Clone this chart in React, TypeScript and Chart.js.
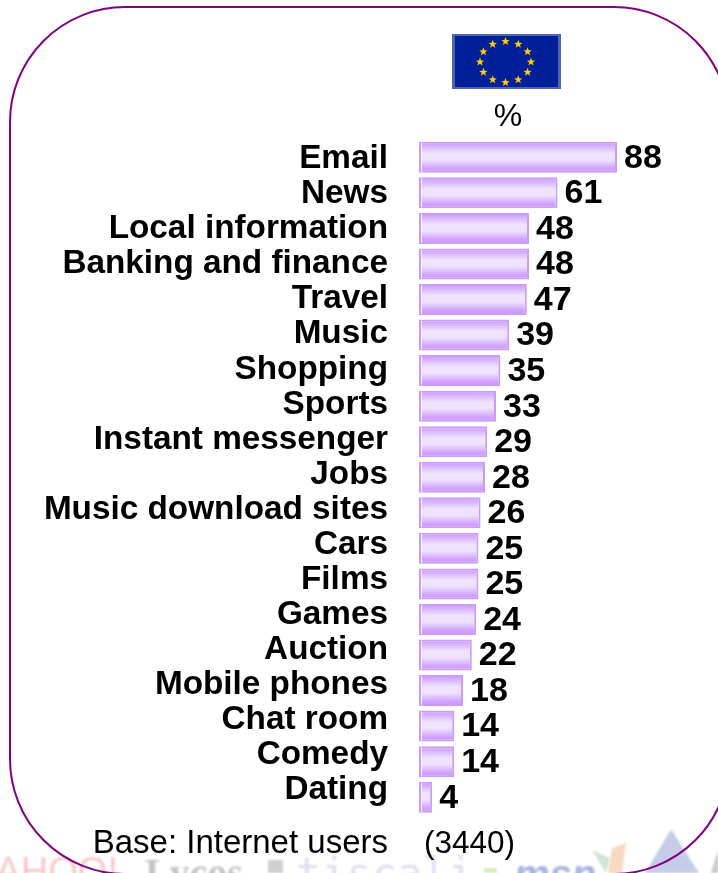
import React, { useEffect, useRef } from "react";
import { Chart, registerables } from "chart.js";

Chart.register(...registerables);

const categories = ["Email","News","Local information","Banking and finance","Travel","Music","Shopping","Sports","Instant messenger","Jobs","Music download sites","Cars","Films","Games","Auction","Mobile phones","Chat room","Comedy","Dating"];
const values = [88,61,48,48,47,39,35,33,29,28,26,25,25,24,22,18,14,14,4];
const unitLabel = "%";
const baseLabel = "Base: Internet users";
const baseCount = "(3440)";
const logos = ["YAHOO!", "Lycos", "tiscali", "msn"];

const FONT = '"Liberation Sans", Arial, sans-serif';

function star(ctx: CanvasRenderingContext2D, x: number, y: number, r: number) {
  ctx.beginPath();
  for (let i = 0; i < 10; i++) {
    const a = -Math.PI / 2 + (i * Math.PI) / 5;
    const rr = i % 2 ? r * 0.42 : r;
    ctx.lineTo(x + rr * Math.cos(a), y + rr * Math.sin(a));
  }
  ctx.closePath();
  ctx.fill();
}

const backdrop = {
  id: "backdrop",
  afterLayout(chart: any) {
    // label rows run slightly tighter than the bars in the reference
    const s = chart.scales.yLabels;
    s.top = s.top + 2;
    s.bottom = s.top + 19 * 35.05;
    s.height = s.bottom - s.top;
    s.configure();
    s._labelItems = null;
  },
  beforeDraw(chart: any) {
    const ctx: CanvasRenderingContext2D = chart.ctx;
    ctx.save();
    ctx.fillStyle = "#fff";
    ctx.fillRect(0, 0, 718, 873);
    ctx.textBaseline = "alphabetic";
    ctx.textAlign = "left";
    // faded logo strip
    ctx.save();
    ctx.filter = "blur(0.8px)";
    ctx.fillStyle = "#f8c8c8";
    ctx.font = '38px "Liberation Sans"';
    ctx.fillText(logos[0], -27, 884);
    ctx.fillStyle = "#c4c4c4";
    ctx.font = 'bold 40px "Liberation Serif"';
    ctx.fillText(logos[1], 145, 886);
    ctx.fillStyle = "#d0d0d0";
    ctx.fillRect(268, 860, 15, 13);
    ctx.fillStyle = "#dfdff0";
    ctx.font = '42px "DejaVu Sans Mono"';
    ctx.fillText(logos[2], 296, 888);
    ctx.fillStyle = "#d8ecc0";
    ctx.fillRect(484, 868, 13, 5);
    ctx.fillStyle = "#a9b4e0";
    ctx.font = 'italic bold 40px "Liberation Sans"';
    ctx.fillText(logos[3], 514, 888);
    ctx.fillStyle = "#f8d8c0";
    ctx.beginPath(); ctx.moveTo(608, 873); ctx.lineTo(612, 848); ctx.lineTo(626, 843); ctx.lineTo(622, 873); ctx.fill();
    ctx.fillStyle = "#cfe4d4";
    ctx.beginPath(); ctx.moveTo(606, 873); ctx.lineTo(592, 850); ctx.lineTo(610, 858); ctx.fill();
    ctx.fillStyle = "#c5cce8";
    ctx.beginPath(); ctx.moveTo(645, 873); ctx.lineTo(671, 829); ctx.lineTo(699, 873); ctx.fill();
    ctx.fillStyle = "#c8c8c8";
    ctx.beginPath(); ctx.moveTo(711, 873); ctx.lineTo(718, 850); ctx.lineTo(718, 873); ctx.fill();
    ctx.restore();
    // rounded frame
    ctx.strokeStyle = "#800080";
    ctx.lineWidth = 2;
    ctx.beginPath();
    ctx.roundRect(10, 7, 719, 867, 115);
    ctx.stroke();
    // EU flag
    ctx.fillStyle = "#4d66b3";
    ctx.fillRect(452, 34, 109, 55);
    ctx.fillStyle = "#00209a";
    ctx.fillRect(455, 36, 103, 51);
    ctx.fillStyle = "#ffcc00";
    for (let i = 0; i < 12; i++) {
      const a = (i * Math.PI) / 6;
      star(ctx, 505.5 + 25.5 * Math.sin(a), 62 - 20.5 * Math.cos(a), 4.4);
    }
    // captions
    ctx.fillStyle = "#000";
    ctx.textBaseline = "middle";
    ctx.font = `32px ${FONT}`;
    ctx.textAlign = "center";
    ctx.fillText(unitLabel, 508, 117);
    ctx.font = `33px ${FONT}`;
    ctx.textAlign = "right";
    ctx.fillText(baseLabel, 388, 844);
    ctx.font = `31.5px ${FONT}`;
    ctx.fillText(baseCount, 515, 844);
    ctx.restore();
  },
};

const valueLabels = {
  id: "valueLabels",
  afterDatasetsDraw(chart: any) {
    const ctx: CanvasRenderingContext2D = chart.ctx;
    const meta = chart.getDatasetMeta(0);
    ctx.save();
    ctx.font = `bold 34px ${FONT}`;
    ctx.textAlign = "left";
    ctx.textBaseline = "middle";
    meta.data.forEach((bar: any, i: number) => {
      ctx.fillStyle = "rgba(255,255,255,0.85)";
      ctx.fillRect(bar.base + 2, bar.y - bar.height / 2 + 1, 1, bar.height - 2);
      ctx.fillStyle = "#000";
      ctx.fillText(String(values[i]), bar.x + 7, bar.y + 1);
    });
    ctx.restore();
  },
};

export default function App() {
  const ref = useRef<HTMLCanvasElement | null>(null);
  useEffect(() => {
    const chart = new Chart(ref.current as HTMLCanvasElement, {
      type: "bar",
      data: {
        labels: categories,
        datasets: [
          {
            data: values,
            xAxisID: "x",
            yAxisID: "y",
            base: -2,
            barPercentage: 0.872,
            categoryPercentage: 1,
            borderColor: "#cc99ff",
            borderWidth: 2,
            borderSkipped: false,
            backgroundColor: (c: any) => {
              const s = c.chart.scales.y;
              if (!s || c.dataIndex === undefined) return "#e0ccff";
              const y = s.getPixelForValue(c.dataIndex);
              if (!Number.isFinite(y)) return "#e0ccff";
              const g = c.chart.ctx.createLinearGradient(0, y - 15.5, 0, y + 15.5);
              g.addColorStop(0, "#cc99ff");
              g.addColorStop(0.14, "#d6b0ff");
              g.addColorStop(0.38, "#efe4ff");
              g.addColorStop(0.58, "#eee2ff");
              g.addColorStop(0.85, "#d0a3ff");
              g.addColorStop(1, "#cc99ff");
              return g;
            },
          } as any,
        ],
      },
      options: {
        indexAxis: "y",
        responsive: false,
        animation: false,
        layout: { padding: { top: 139.5, bottom: 58, right: 101, left: 0 } },
        plugins: { legend: { display: false }, tooltip: { enabled: false } },
        scales: {
          x: { type: "linear", min: -2, max: 88, display: false },
          y: { type: "category", display: false, offset: true, grid: { display: false } },
          yLabels: {
            type: "category",
            position: "left",
            labels: categories,
            offset: true,
            grid: { display: false },
            border: { display: false },
            ticks: {
              color: "#000",
              padding: 23,
              autoSkip: false,
              maxRotation: 0,
              minRotation: 0,
              font: { family: FONT, size: 33.3, weight: "bold" },
            },
            afterFit(s: any) { s.width = 419; },
          },
        },
      } as any,
      plugins: [backdrop, valueLabels],
    });
    return () => chart.destroy();
  }, []);
  return (
    <div style={{ position: "fixed", left: 0, top: 0, width: 718, height: 873, overflow: "hidden", background: "#fff" }}>
      <canvas ref={ref} width={718} height={873} style={{ display: "block" }} />
    </div>
  );
}
